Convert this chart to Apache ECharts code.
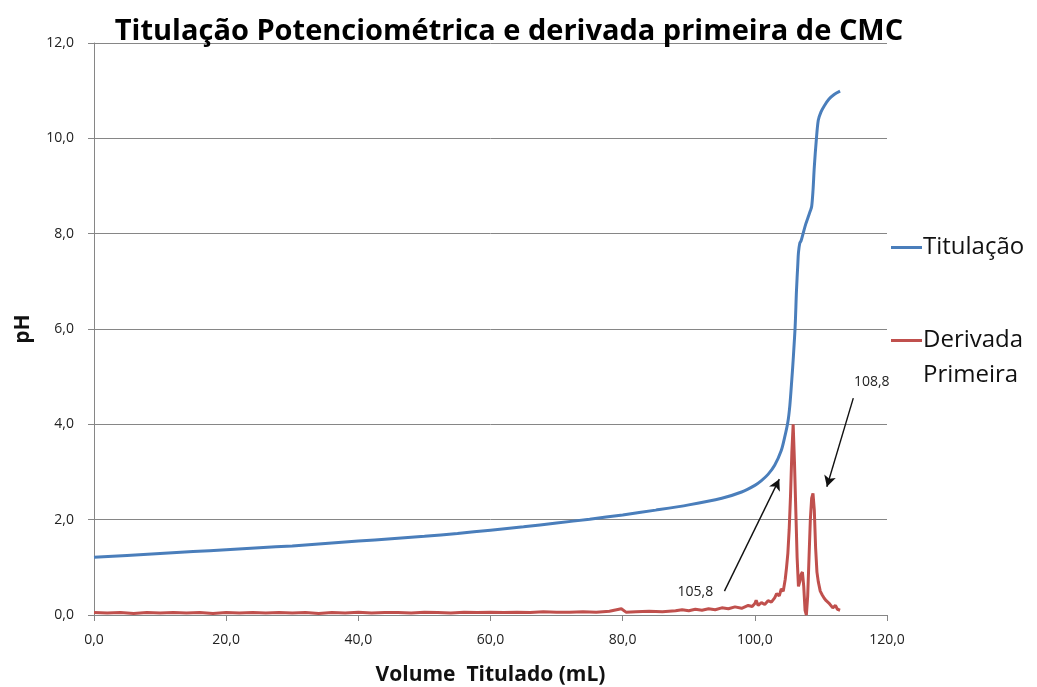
<!DOCTYPE html>
<html>
<head>
<meta charset="utf-8">
<script src="https://cdn.jsdelivr.net/npm/echarts@6/dist/echarts.min.js"></script>
<style>
  html, body { margin: 0; padding: 0; background: #fff; }
  #chart { width: 1037px; height: 687px; }
</style>
</head>
<body>
<div id="chart"></div>
<script>
// Curva de titulação potenciométrica (pH x volume)
const titVolume = [0, 5, 10, 15, 20, 25, 30, 35, 40, 45, 50, 55, 60, 65, 70, 75, 80, 85, 90, 95, 98,
  100, 101, 102, 103, 104, 104.5, 105, 105.3, 105.6, 105.8, 106.1, 106.3, 106.5, 106.6, 106.8, 107.0,
  107.3, 107.7, 108.1, 108.4, 108.6, 108.8, 109.0, 109.3, 109.6, 110.0, 110.5, 111.2, 112.0, 112.9];
const titPH = [1.21, 1.25, 1.29, 1.33, 1.37, 1.41, 1.45, 1.50, 1.55, 1.60, 1.65, 1.71, 1.78, 1.85, 1.93, 2.01, 2.10, 2.20, 2.31, 2.45, 2.58,
  2.72, 2.82, 2.95, 3.14, 3.45, 3.72, 4.05, 4.40, 4.95, 5.35, 6.05, 6.80, 7.35, 7.60, 7.80, 7.85,
  8.00, 8.20, 8.36, 8.48, 8.57, 8.90, 9.40, 9.96, 10.38, 10.55, 10.68, 10.82, 10.92, 10.99];

// Derivada primeira (dpH/dV)
const derVolume = [0, 2, 4, 6, 8, 10, 12, 14, 16, 18, 20, 22, 24, 26, 28, 30, 32, 34, 36, 38, 40,
  42, 44, 46, 48, 50, 52, 54, 56, 58, 60, 62, 64, 66, 68, 70, 72, 74, 76, 78, 79.8, 80.5,
  82, 84, 86, 88, 89, 90, 91, 92, 93, 94, 95, 96, 97, 98, 99, 99.6, 100.0, 100.2, 100.5,
  101, 101.5, 102, 102.5, 103, 103.3, 103.7, 104, 104.3, 104.6, 104.8, 105.0, 105.2, 105.4,
  105.6, 105.8, 106.0, 106.2, 106.4, 106.6, 106.8, 107.0, 107.2, 107.4, 107.6, 107.8, 108.0,
  108.2, 108.4, 108.6, 108.8, 109.0, 109.2, 109.4, 109.6, 109.9, 110.2, 110.5, 110.8, 111.2,
  111.5, 111.8, 112.2, 112.5, 112.9];
const derValue = [0.05, 0.04, 0.05, 0.03, 0.05, 0.04, 0.05, 0.04, 0.05, 0.03, 0.05, 0.04, 0.05, 0.04, 0.05, 0.04, 0.05, 0.03, 0.05, 0.04, 0.06,
  0.04, 0.05, 0.05, 0.04, 0.06, 0.05, 0.04, 0.06, 0.05, 0.06, 0.05, 0.06, 0.05, 0.07, 0.06, 0.06, 0.07, 0.06, 0.08, 0.13, 0.06,
  0.07, 0.08, 0.07, 0.09, 0.11, 0.09, 0.12, 0.10, 0.13, 0.11, 0.15, 0.13, 0.17, 0.14, 0.20, 0.18, 0.24, 0.31, 0.20,
  0.26, 0.22, 0.30, 0.27, 0.36, 0.45, 0.40, 0.55, 0.50, 0.75, 1.00, 1.30, 1.80, 2.50,
  3.40, 4.00, 3.20, 2.20, 1.20, 0.60, 0.70, 0.85, 0.90, 0.60, 0.10, 0.00, 0.40,
  1.20, 2.00, 2.45, 2.55, 2.20, 1.40, 0.90, 0.70, 0.50, 0.42, 0.35, 0.30, 0.25,
  0.22, 0.15, 0.20, 0.12, 0.10];

// Anotações dos pontos de equivalência: texto e seta (coordenadas nos eixos)
const peakLabels = ['105,8', '108,8'];
const labelPos = [[91.0, 0.48], [117.7, 4.89]];
const arrowFrom = [[95.4, 0.50], [114.9, 4.55]];
const arrowTo = [[103.7, 2.85], [110.9, 2.69]];

const pairs = (xs, ys) => xs.map((x, i) => [x, ys[i]]);
const fmt = v => v.toFixed(1).replace('.', ',');
const axisGray = '#868686';
const blue = '#4A7EBB';
const red = '#C0504D';
const font = '"Open Sans", "Liberation Sans", sans-serif';

const legendBase = {
  orient: 'vertical', left: 891, padding: 0,
  icon: 'rect', itemWidth: 31, itemHeight: 3,
  textStyle: { fontFamily: font, fontSize: 24, color: '#111', lineHeight: 35, padding: [0, 0, 0, -4] }
};

const chart = echarts.init(document.getElementById('chart'), null, { renderer: 'canvas' });
chart.setOption({
  animation: false,
  backgroundColor: '#fff',
  textStyle: { fontFamily: font },
  title: {
    text: 'Titulação Potenciométrica e derivada primeira de CMC',
    left: 509, top: 14, textAlign: 'center', padding: 0,
    textStyle: { fontFamily: font, fontWeight: 'bold', fontSize: 29, lineHeight: 36, color: '#000' }
  },
  legend: [
    Object.assign({}, legendBase, { top: 230, data: ['Titulação'] }),
    // linha em branco no início: o ícone fica alinhado com "Derivada"
    Object.assign({}, legendBase, {
      top: 288,
      formatter: () => '\nDerivada\nPrimeira',
      data: ['Derivada Primeira']
    })
  ],
  grid: { left: 94, right: 150, top: 43, bottom: 72, containLabel: false, outerBoundsMode: 'none' },
  xAxis: {
    type: 'value', min: 0, max: 120, interval: 20,
    name: 'Volume  Titulado (mL)', nameLocation: 'middle', nameGap: 50,
    nameTextStyle: { fontFamily: font, fontWeight: 'bold', fontSize: 21, color: '#111' },
    axisLine: { show: true, lineStyle: { color: axisGray, width: 1 } },
    axisTick: { show: true, length: 6, lineStyle: { color: axisGray } },
    axisLabel: { formatter: fmt, fontFamily: font, fontSize: 14, color: '#222', margin: 18 },
    splitLine: { show: false }
  },
  yAxis: {
    type: 'value', min: 0, max: 12, interval: 2,
    name: 'pH', nameLocation: 'middle', nameGap: 60, nameRotate: 90,
    nameTextStyle: { fontFamily: font, fontWeight: 'bold', fontSize: 21, color: '#111' },
    axisLine: { show: true, lineStyle: { color: axisGray, width: 1 } },
    axisTick: { show: true, length: 6, lineStyle: { color: axisGray } },
    axisLabel: { formatter: fmt, fontFamily: font, fontSize: 14, color: '#222', margin: 20 },
    splitLine: { show: true, lineStyle: { color: axisGray, width: 1 } }
  },
  series: [
    {
      name: 'Titulação', type: 'line', data: pairs(titVolume, titPH),
      symbol: 'none', smooth: 0.3, z: 3,
      lineStyle: { color: blue, width: 3 }, itemStyle: { color: blue }
    },
    {
      name: 'Derivada Primeira', type: 'line', data: pairs(derVolume, derValue),
      symbol: 'none', z: 2,
      lineStyle: { color: red, width: 3 }, itemStyle: { color: red },
      markLine: {
        silent: true, symbol: ['none', 'arrow'], symbolSize: [9, 11],
        lineStyle: { color: '#111', width: 1.4, type: 'solid' },
        label: { show: false },
        data: arrowFrom.map((p, i) => [{ coord: p }, { coord: arrowTo[i] }])
      },
      markPoint: {
        silent: true, symbol: 'circle', symbolSize: 0,
        label: { show: true, position: 'inside', fontFamily: font, fontSize: 14, color: '#222',
          formatter: p => p.name },
        data: peakLabels.map((t, i) => ({ name: t, coord: labelPos[i] }))
      }
    }
  ]
});
</script>
</body>
</html>
